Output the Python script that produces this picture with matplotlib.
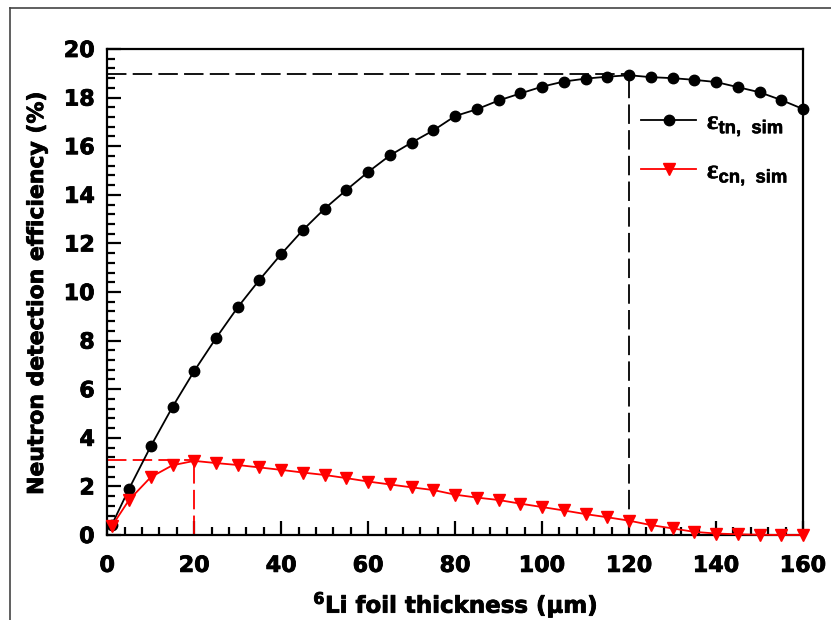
import matplotlib
matplotlib.use("Agg")
import matplotlib.pyplot as plt
import matplotlib.patheffects as pe
from matplotlib.lines import Line2D
from matplotlib.ticker import MultipleLocator

plt.rcParams['font.family'] = ['DejaVu Sans']
plt.rcParams['font.weight'] = 'bold'
plt.rcParams['mathtext.fontset'] = 'custom'
plt.rcParams['mathtext.rm'] = 'Liberation Serif'
plt.rcParams['mathtext.bf'] = 'Liberation Sans:bold'
plt.rcParams['mathtext.sf'] = 'DejaVu Sans:bold'
plt.rcParams['lines.scale_dashes'] = False

thickness = [1, 5, 10, 15, 20, 25, 30, 35, 40, 45, 50, 55, 60, 65, 70, 75, 80,
             85, 90, 95, 100, 105, 110, 115, 120, 125, 130, 135, 140, 145, 150, 155, 160]
eff_tn = [0.40, 1.90, 3.65, 5.27, 6.75, 8.10, 9.37, 10.50, 11.56, 12.55, 13.43, 14.20,
          14.94, 15.62, 16.15, 16.65, 17.24, 17.52, 17.88, 18.17, 18.45, 18.66, 18.78,
          18.86, 18.92, 18.84, 18.80, 18.73, 18.64, 18.43, 18.22, 17.90, 17.53]
eff_cn = [0.35, 1.44, 2.38, 2.87, 3.05, 2.96, 2.88, 2.78, 2.68, 2.57, 2.47, 2.34,
          2.20, 2.08, 1.96, 1.85, 1.66, 1.54, 1.44, 1.29, 1.15, 1.01, 0.86, 0.73,
          0.59, 0.41, 0.27, 0.13, 0.06, 0.03, 0.01, 0.0, 0.0]
peak_tn = (120, 18.95)
peak_cn = (20, 3.08)

fig = plt.figure(figsize=(8.31, 6.2), dpi=100)
ax = fig.add_axes([0.1291, 0.1371, 0.9663 - 0.1291, 0.921 - 0.1371])

# figure border (left and top edges visible)
fig.add_artist(Line2D([10/831, 10/831], [0, 1 - 8/620], transform=fig.transFigure,
                      color='#444444', lw=1.2))
fig.add_artist(Line2D([10/831, 1], [1 - 8/620, 1 - 8/620], transform=fig.transFigure,
                      color='#444444', lw=1.2))

dash = (0, (14, 4.5))
ax.plot([0, peak_tn[0]], [peak_tn[1], peak_tn[1]], color='black', lw=1.3, linestyle=dash)
ax.plot([peak_tn[0], peak_tn[0]], [0, peak_tn[1]], color='black', lw=1.3, linestyle=dash)
ax.plot([0, peak_cn[0]], [peak_cn[1], peak_cn[1]], color='red', lw=1.3, linestyle=dash)
ax.plot([peak_cn[0], peak_cn[0]], [0, peak_cn[1]], color='red', lw=1.3, linestyle=dash)

ax.plot(thickness, eff_tn, color='black', lw=1.3, marker='o', markersize=7.5,
        label=r'$\mathrm{ε}_{\mathbf{tn,\ sim}}$', clip_on=False, zorder=5)
ax.plot(thickness, eff_cn, color='red', lw=1.3, marker='v', markersize=8.5,
        label=r'$\mathrm{ε}_{\mathbf{cn,\ sim}}$', clip_on=False, zorder=5)

ax.set_xlim(0, 160)
ax.set_ylim(0, 20)
ax.xaxis.set_major_locator(MultipleLocator(20))
ax.xaxis.set_minor_locator(MultipleLocator(4))
ax.yaxis.set_major_locator(MultipleLocator(2))
ax.yaxis.set_minor_locator(MultipleLocator(0.4))
ax.tick_params(which='both', direction='in', width=1.6, top=False, right=False)
ax.tick_params(which='major', length=10, labelsize=16)
ax.tick_params(which='minor', length=5.5)
ax.tick_params(axis='x', which='major', pad=15)
ax.tick_params(axis='y', which='major', pad=9)
heavy = [pe.withStroke(linewidth=0.6, foreground='black')]
for lab in ax.get_xticklabels() + ax.get_yticklabels():
    lab.set_fontweight('bold')
    lab.set_path_effects(heavy)
for sp in ax.spines.values():
    sp.set_linewidth(1.6)

ax.set_xlabel(r'$\mathregular{^6}$Li foil thickness (µm)', fontsize=16.5, fontweight='bold',
              labelpad=10, path_effects=heavy)
ax.set_ylabel('Neutron detection efficiency (%)', fontsize=15.8, fontweight='bold',
              labelpad=12, path_effects=heavy)

leg = ax.legend(loc='upper left', bbox_to_anchor=(0.752, 0.898), frameon=False,
                fontsize=19, handlelength=2.1, labelspacing=0.75, handletextpad=0.4,
                borderaxespad=0)
for t in leg.get_texts():
    t.set_path_effects([pe.withStroke(linewidth=0.4, foreground='black')])

fig.savefig('out.png', dpi=100)
